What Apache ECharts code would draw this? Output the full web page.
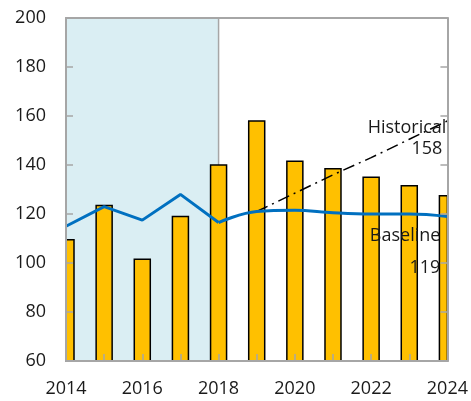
<!DOCTYPE html>
<html>
<head>
<meta charset="utf-8">
<script src="https://cdn.jsdelivr.net/npm/echarts@6/dist/echarts.min.js"></script>
<style>
  html, body { margin: 0; padding: 0; background: #fff; }
  #chart { width: 471px; height: 401px; }
</style>
</head>
<body>
<div id="chart"></div>
<script>
// Annual values (bars), actual trend 2014-2018, baseline and historical-trend projections
const years = [2014, 2015, 2016, 2017, 2018, 2019, 2020, 2021, 2022, 2023, 2024];
const barValues = [109.5, 123.5, 101.5, 119, 140, 158, 141.5, 138.5, 135, 131.5, 127.5];

const trendYears = [2014, 2015, 2016, 2017, 2018];
const trendValues = [115, 123, 117.5, 128, 116.5];

const baselineYears = [2018, 2019, 2020, 2021, 2022, 2023, 2024];
const baselineValues = [116.5, 121, 121.5, 120.5, 120, 120, 119];

const historicalYears = [2019, 2020, 2021, 2022, 2023, 2024];
const historicalValues = [121, 128.5, 136, 143, 150.5, 158];

const yTicks = [60, 80, 100, 120, 140, 160, 180, 200];
const shadedSpan = [2014, 2018];

const pairs = (xs, ys) => xs.map((x, i) => [x, ys[i]]);

const FONT = '"Open Sans", "Noto Sans", sans-serif';
const GREY = '#A6A6A6';
const TEXT = '#1a1a1a';
const BAR_WIDTH = 16;

// Bars are drawn as a custom series so that the half bars at both ends
// are cut off exactly at the plot border.
function renderBar(params, api) {
  const x = api.value(0);
  const top = api.coord([x, api.value(1)]);
  const base = api.coord([x, yTicks[0]]);
  const cs = params.coordSys;
  const rect = echarts.graphic.clipRectByRect(
    { x: top[0] - BAR_WIDTH / 2, y: top[1], width: BAR_WIDTH, height: base[1] - top[1] },
    { x: cs.x, y: cs.y, width: cs.width, height: cs.height }
  );
  if (!rect) return null;
  return {
    type: 'rect',
    shape: rect,
    style: { fill: '#FFC000', stroke: '#000', lineWidth: 1.5 }
  };
}

const chart = echarts.init(document.getElementById('chart'), null, { renderer: 'canvas' });

chart.setOption({
  animation: false,
  grid: { left: 66, right: 21, top: 18, bottom: 40, containLabel: false },
  xAxis: [
    {
      type: 'value',
      min: years[0],
      max: years[years.length - 1],
      interval: 1,
      z: 5,
      axisLine: { show: true, lineStyle: { color: GREY, width: 2 } },
      axisTick: { show: true, inside: true, length: 7, lineStyle: { color: GREY, width: 1.5 } },
      splitLine: { show: false },
      axisLabel: {
        margin: 19,
        fontFamily: FONT,
        fontSize: 18,
        color: TEXT,
        formatter: v => (v % 2 === 0 ? String(v) : '')
      }
    },
    {
      type: 'value',
      position: 'top',
      min: years[0],
      max: years[years.length - 1],
      z: 5,
      axisLine: { show: true, lineStyle: { color: GREY, width: 2 } },
      axisTick: { show: false },
      axisLabel: { show: false },
      splitLine: { show: false }
    }
  ],
  yAxis: [
    {
      type: 'value',
      min: yTicks[0],
      max: yTicks[yTicks.length - 1],
      interval: 20,
      z: 5,
      axisLine: { show: true, lineStyle: { color: GREY, width: 2 } },
      axisTick: { show: true, inside: true, length: 7, lineStyle: { color: GREY, width: 1.5 } },
      splitLine: { show: false },
      axisLabel: { margin: 20, fontFamily: FONT, fontSize: 18, color: TEXT }
    },
    {
      type: 'value',
      position: 'right',
      min: yTicks[0],
      max: yTicks[yTicks.length - 1],
      interval: 20,
      z: 5,
      axisLine: { show: true, lineStyle: { color: GREY, width: 2 } },
      axisTick: { show: true, inside: true, length: 7, lineStyle: { color: GREY, width: 1.5 } },
      splitLine: { show: false },
      axisLabel: { show: false }
    }
  ],
  series: [
    {
      // shaded period
      type: 'line',
      z: 1,
      data: [],
      markArea: {
        silent: true,
        itemStyle: { color: '#DAEEF3', borderColor: GREY, borderWidth: 1.5 },
        data: [[{ xAxis: shadedSpan[0] }, { xAxis: shadedSpan[1] }]]
      }
    },
    {
      type: 'custom',
      z: 2,
      renderItem: renderBar,
      encode: { x: 0, y: 1 },
      data: pairs(years, barValues)
    },
    {
      type: 'line',
      z: 3,
      data: pairs(historicalYears, historicalValues),
      showSymbol: false,
      lineStyle: { color: '#000', width: 1.5, type: [12, 5, 2, 5] },
      endLabel: {
        show: true,
        align: 'right',
        verticalAlign: 'top',
        distance: -1,
        formatter: p => '{a|Historical}\n{b|' + p.value[1] + '}',
        rich: {
          a: { fontFamily: FONT, fontSize: 18, color: TEXT, lineHeight: 14, align: 'right' },
          b: { fontFamily: FONT, fontSize: 18, color: TEXT, lineHeight: 28, align: 'right', padding: [0, 4, 0, 0] }
        }
      }
    },
    {
      type: 'line',
      z: 4,
      data: pairs(trendYears, trendValues),
      showSymbol: false,
      lineStyle: { color: '#0070C0', width: 3 }
    },
    {
      type: 'line',
      z: 4,
      data: pairs(baselineYears, baselineValues),
      showSymbol: false,
      smooth: 0.4,
      lineStyle: { color: '#0070C0', width: 3 },
      endLabel: {
        show: true,
        align: 'right',
        verticalAlign: 'top',
        distance: -7,
        formatter: p => '{a|Baseline}\n{b|' + p.value[1] + '}',
        rich: {
          a: { fontFamily: FONT, fontSize: 18, color: TEXT, lineHeight: 39, align: 'right' },
          b: { fontFamily: FONT, fontSize: 18, color: TEXT, lineHeight: 24, align: 'right' }
        }
      }
    }
  ]
});
</script>
</body>
</html>
